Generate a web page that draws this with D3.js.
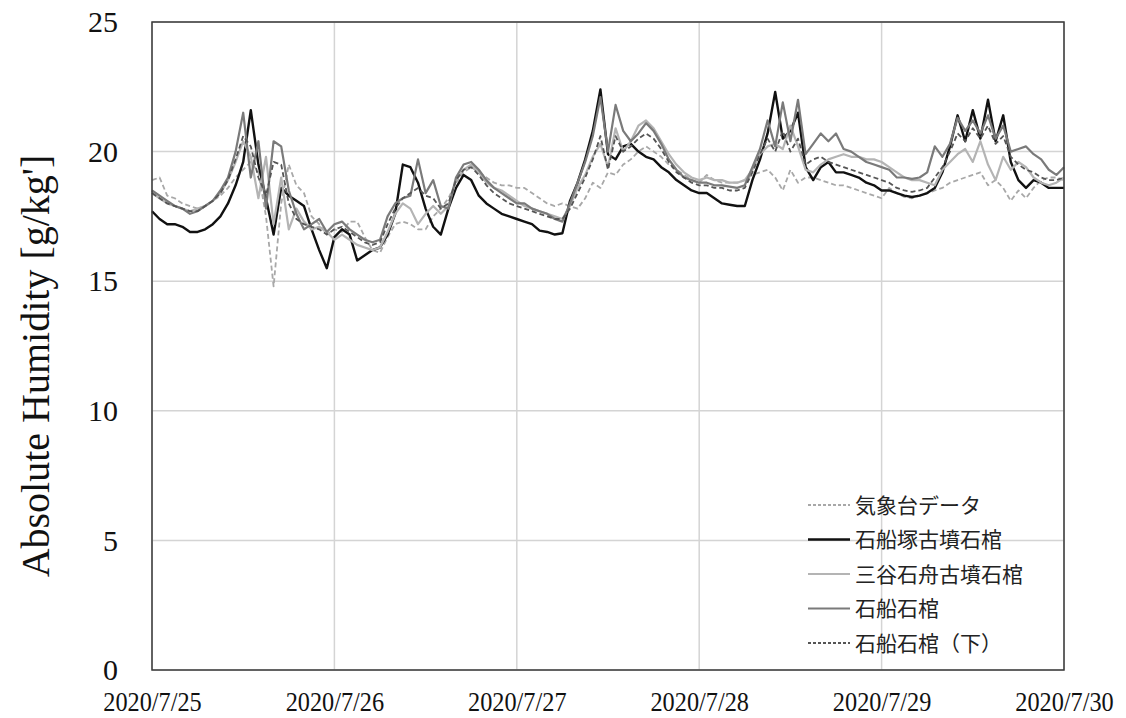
<!DOCTYPE html>
<html><head><meta charset="utf-8">
<script src="https://cdn.jsdelivr.net/npm/d3@7"></script>
<style>body{margin:0;background:#fff}svg{display:block}</style>
</head><body><svg id="c" width="1126" height="718"></svg>
<script>
// hourly readings, 2020/7/25 00:00 .. 2020/7/30 00:00 (121 points)
const startDate = new Date(2020, 6, 25);
const endDate = new Date(2020, 6, 30);
const yTicks = [0, 5, 10, 15, 20, 25];
const seriesNames = ["気象台データ", "石船塚古墳石棺", "三谷石舟古墳石棺", "石船石棺", "石船石棺（下）"];

const kishoudai = [
18.9,19.0,18.3,18.2,18.0,17.9,17.8,17.9,18.1,18.3,18.6,19.0,19.3,19.6,19.2,17.5,14.8,18.0,19.5,18.7,18.4,17.5,17.2,16.8,
17.0,16.9,17.3,17.3,16.7,16.2,16.1,16.7,17.2,17.3,17.2,17.0,17.0,17.5,17.8,18.2,18.8,19.2,19.4,19.2,19.0,18.8,18.7,18.7,
18.6,18.6,18.4,18.2,18.0,17.9,18.0,17.9,17.8,18.2,18.8,18.6,19.2,19.1,19.5,19.7,20.0,20.2,20.0,19.8,19.5,19.3,19.1,18.9,
18.8,19.1,18.9,18.8,18.8,18.8,18.9,19.1,19.2,19.3,19.0,18.5,19.3,18.8,19.0,19.0,18.9,18.8,18.7,18.7,18.6,18.5,18.4,18.3,
18.2,18.6,18.4,18.25,18.2,18.3,18.4,18.5,18.6,18.8,18.9,19.0,19.1,19.2,18.7,18.9,18.6,18.1,18.5,18.2,18.6,18.9,19.0,19.0,
18.9];
const ishifunezuka = [
17.7,17.4,17.2,17.2,17.1,16.9,16.9,17.0,17.2,17.5,18.0,18.7,19.6,21.6,19.5,18.2,16.8,18.6,18.3,18.1,17.9,17.0,16.2,15.5,
16.7,17.0,16.8,15.8,16.0,16.2,16.3,16.8,17.6,19.5,19.4,18.8,17.8,17.1,16.8,17.8,18.6,19.1,18.9,18.3,18.0,17.8,17.6,17.5,
17.4,17.3,17.2,16.95,16.9,16.8,16.85,18.1,18.8,19.7,20.8,22.4,19.9,19.7,20.2,20.3,20.0,19.8,19.7,19.4,19.2,18.9,18.7,18.5,
18.4,18.4,18.2,18.0,17.95,17.9,17.9,18.9,19.7,20.7,22.3,20.5,20.8,21.5,19.4,18.9,19.4,19.6,19.2,19.2,19.1,19.0,18.8,18.7,
18.5,18.5,18.4,18.3,18.25,18.3,18.4,18.6,19.2,20.2,21.4,20.4,21.6,20.5,22.0,20.4,21.4,19.6,18.9,18.6,18.9,18.8,18.6,18.6,
18.6];
const mitani = [
18.4,18.2,18.0,17.9,17.8,17.7,17.8,17.9,18.1,18.4,18.9,19.6,20.4,19.8,18.2,19.8,17.2,19.0,17.0,17.8,17.3,17.0,17.1,16.9,
16.6,16.8,16.6,16.4,16.3,16.2,16.3,16.9,17.6,18.0,17.8,17.2,17.6,17.9,17.6,17.9,18.9,19.3,19.5,19.2,18.8,18.6,18.5,18.3,
18.1,17.9,17.8,17.7,17.6,17.5,17.4,17.9,18.6,19.1,19.8,20.3,19.4,20.9,20.0,20.4,21.0,21.2,20.9,20.4,19.9,19.5,19.2,19.0,
18.9,19.0,18.9,18.9,18.8,18.8,18.9,19.3,19.9,20.2,20.3,20.1,21.0,20.2,19.3,19.2,19.5,19.7,19.8,19.9,19.8,19.8,19.7,19.7,
19.6,19.4,19.2,19.0,18.9,18.9,18.8,18.7,19.3,19.6,19.9,20.1,19.6,20.4,19.5,18.9,19.8,19.3,19.6,19.4,19.0,18.8,18.7,18.8,
19.0];
const ishifune = [
18.5,18.3,18.1,17.9,17.8,17.6,17.7,17.9,18.1,18.5,19.0,20.0,21.5,19.0,20.4,17.8,20.4,20.2,18.5,17.6,17.0,17.2,17.4,16.9,
17.2,17.3,17.0,16.8,16.6,16.5,16.6,17.5,18.0,18.2,18.3,19.7,18.4,18.9,17.9,17.8,19.0,19.5,19.6,19.3,18.9,18.6,18.4,18.2,
18.0,18.0,17.8,17.7,17.6,17.4,17.3,18.0,18.8,19.6,20.6,22.1,20.0,21.8,20.8,20.4,20.7,21.1,20.8,20.3,19.7,19.3,19.0,18.9,
18.8,18.8,18.7,18.7,18.65,18.6,18.7,19.4,20.1,21.2,20.2,21.9,20.4,22.0,19.9,20.3,20.7,20.4,20.7,20.1,20.0,19.8,19.6,19.5,
19.4,19.3,19.0,19.0,18.95,19.0,19.2,20.2,19.8,20.3,21.3,20.8,21.2,20.7,21.4,20.5,21.0,20.0,20.1,20.2,19.9,19.7,19.3,19.1,
19.4];
const ishifuneShita = [
18.4,18.2,18.0,17.9,17.8,17.7,17.7,17.9,18.1,18.4,18.9,19.7,20.6,20.2,19.0,18.3,19.6,19.5,18.0,17.4,17.2,17.1,17.0,16.8,
17.0,17.1,16.9,16.7,16.5,16.4,16.5,17.2,17.8,18.2,18.4,18.6,18.3,18.2,17.8,18.0,18.9,19.3,19.4,19.1,18.7,18.4,18.2,18.0,
17.9,17.8,17.7,17.6,17.5,17.4,17.4,17.8,18.4,19.0,19.7,20.6,19.3,20.6,20.0,20.2,20.5,20.7,20.5,20.1,19.6,19.2,19.0,18.8,
18.7,18.7,18.6,18.6,18.5,18.5,18.6,19.2,19.9,20.5,20.0,20.8,20.0,20.5,19.5,19.7,19.8,19.6,19.5,19.4,19.3,19.2,19.1,19.0,
18.9,18.8,18.6,18.5,18.45,18.5,18.6,19.0,19.4,20.0,20.7,20.4,20.9,20.5,21.0,20.3,20.6,19.8,19.5,19.3,19.2,19.0,18.9,18.9,
19.0];

const allSeries = [kishoudai, ishifunezuka, mitani, ishifune, ishifuneShita];
const colors = ["#a8a8a8", "#111111", "#b4b4b4", "#7a7a7a", "#555555"];
const dashes = ["5,3", null, null, null, "5,3"];
const widths = [1.8, 2.4, 2.2, 2.2, 1.8];

const svg = d3.select("#c");
const m = {l: 152, r: 1064, t: 22, b: 670};
const x = d3.scaleTime().domain([startDate, endDate]).range([m.l, m.r]);
const y = d3.scaleLinear().domain([0, 25]).range([m.b, m.t]);
const times = d3.timeHour.range(startDate, d3.timeHour.offset(endDate, 1));

// grid
svg.append("g").selectAll("line").data(yTicks).join("line")
  .attr("x1", m.l).attr("x2", m.r).attr("y1", d => y(d)).attr("y2", d => y(d))
  .attr("stroke", "#d4d4d4").attr("stroke-width", 1.5);
svg.append("g").selectAll("line").data(d3.timeDay.range(startDate, d3.timeDay.offset(endDate, 1))).join("line")
  .attr("y1", m.t).attr("y2", m.b).attr("x1", d => x(d)).attr("x2", d => x(d))
  .attr("stroke", "#d4d4d4").attr("stroke-width", 1.5);

// lines
const line = d3.line().x((d, i) => x(times[i])).y(d => y(d));
allSeries.forEach((s, k) => {
  svg.append("path").datum(s).attr("d", line).attr("fill", "none")
    .attr("stroke", colors[k]).attr("stroke-width", widths[k])
    .attr("stroke-linejoin", "round")
    .attr("stroke-dasharray", dashes[k]);
});

// frame
svg.append("rect").attr("x", m.l).attr("y", m.t).attr("width", m.r - m.l).attr("height", m.b - m.t)
  .attr("fill", "none").attr("stroke", "#3a3a3a").attr("stroke-width", 1.5);

// y axis labels
const yAxis = d3.axisLeft(y).tickValues(yTicks).tickSize(0).tickPadding(34);
const gy = svg.append("g").attr("transform", `translate(${m.l},0)`).call(yAxis);
gy.select(".domain").remove();
gy.selectAll("text").attr("font-family", "'Liberation Serif', 'Times New Roman', serif")
  .attr("font-size", 30).attr("fill", "#111");

// x axis labels
const fmt = d3.timeFormat("%Y/%-m/%-d");
const xAxis = d3.axisBottom(x).ticks(d3.timeDay.every(1)).tickFormat(fmt).tickSize(0).tickPadding(22);
const gx = svg.append("g").attr("transform", `translate(0,${m.b})`).call(xAxis);
gx.select(".domain").remove();
gx.selectAll("text").attr("font-family", "'Liberation Serif', 'Times New Roman', serif")
  .attr("font-size", 27).attr("fill", "#111")
  .attr("transform", function() { const t = d3.select(this); return `translate(${+t.attr("x") || 0},0) scale(0.9,1)`; });

// y title
svg.append("text").attr("transform", `translate(49,366) rotate(-90)`)
  .attr("text-anchor", "middle")
  .attr("font-family", "'Liberation Serif', 'Times New Roman', serif")
  .attr("font-size", 40).attr("fill", "#111")
  .text("Absolute Humidity [g/kg']");

// legend
const lg = svg.append("g");
seriesNames.forEach((n, k) => {
  const yy = 505 + k * 34.5;
  lg.append("line").attr("x1", 808).attr("x2", 850).attr("y1", yy).attr("y2", yy)
    .attr("stroke", colors[k]).attr("stroke-width", widths[k]).attr("stroke-dasharray", dashes[k] ? "3,2" : null);
  lg.append("text").attr("x", 855).attr("y", yy).attr("dy", "0.36em")
    .attr("font-family", "'Noto Sans CJK JP', sans-serif").attr("font-size", 21)
    .attr("fill", "#222").text(n);
});
</script></body></html>
